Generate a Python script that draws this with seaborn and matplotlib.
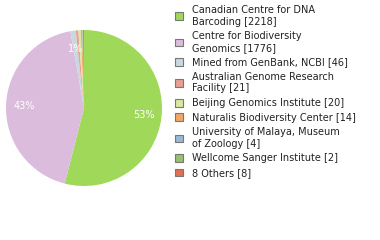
import math
import matplotlib
matplotlib.use("Agg")
import matplotlib.pyplot as plt
import seaborn as sns
from matplotlib.patches import Patch

sns.set_theme(style="white")
plt.rcParams['font.family'] = ['DejaVu Sans']

labels = [
    "Canadian Centre for DNA\nBarcoding [2218]",
    "Centre for Biodiversity\nGenomics [1776]",
    "Mined from GenBank, NCBI [46]",
    "Australian Genome Research\nFacility [21]",
    "Beijing Genomics Institute [20]",
    "Naturalis Biodiversity Center [14]",
    "University of Malaya, Museum\nof Zoology [4]",
    "Wellcome Sanger Institute [2]",
    "8 Others [8]",
]
values = [2218, 1776, 46, 21, 20, 14, 4, 2, 8]
colors = ["#a0d95a", "#dcbcdc", "#c8d8e0", "#e8a090", "#d8e8a0",
          "#f0a868", "#98b8d8", "#98c070", "#e07050"]

fig = plt.figure(figsize=(3.8, 2.4), dpi=100)
ax = fig.add_axes([6/380, 54/240, 156/380, 156/240])

def fmt(p):
    v = math.floor(p + 1e-9)
    return f"{v}%" if v >= 1 else ""

wedges, texts, autotexts = ax.pie(
    values, colors=colors, startangle=90, counterclock=False,
    autopct=fmt, pctdistance=0.77,
    wedgeprops=dict(linewidth=0),
    textprops=dict(color="white", fontsize=7),
)
ax.set_xlim(-1, 1)
ax.set_ylim(-1, 1)
ax.set_aspect("equal")

handles = [Patch(facecolor=c, edgecolor="#777777", linewidth=0.8) for c in colors]
fig.legend(handles, labels, loc="upper left", bbox_to_anchor=(172/380, 1 - 2/240),
           frameon=False, fontsize=7, handlelength=0.85, handleheight=0.85,
           handletextpad=0.95, labelspacing=0.47, borderaxespad=0.0,
           borderpad=0.3, labelcolor="#222222")

fig.savefig("out.png", dpi=100)
